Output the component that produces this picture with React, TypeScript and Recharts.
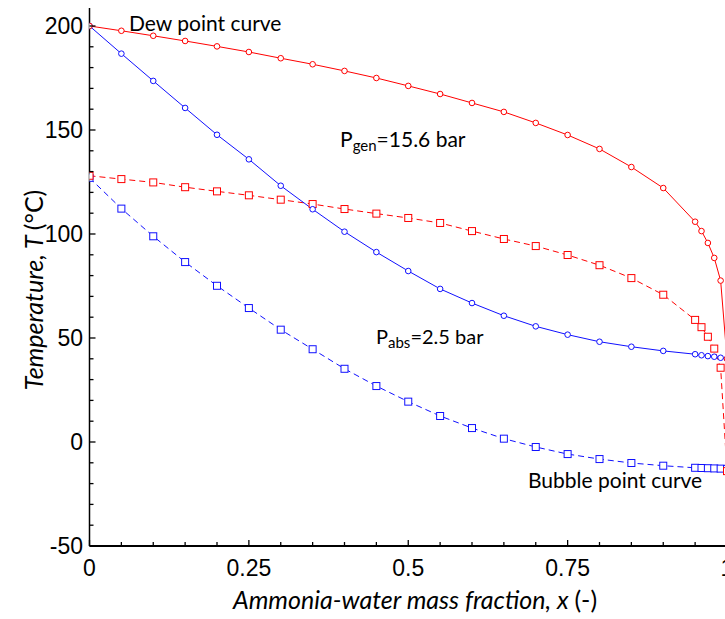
import React from 'react';
import { LineChart, Line, XAxis, YAxis } from 'recharts';

const xValues = [0, 0.05, 0.1, 0.15, 0.2, 0.25, 0.3, 0.35, 0.4, 0.45, 0.5, 0.55, 0.6, 0.65, 0.7, 0.75, 0.8, 0.85, 0.9, 0.95, 0.96, 0.97, 0.98, 0.99, 1.0];
const dewHigh = [200, 197.7, 195.3, 192.8, 190.2, 187.5, 184.5, 181.6, 178.4, 175, 171.2, 167.3, 163, 158.7, 153.4, 147.6, 140.9, 132.2, 122.1, 105.9, 101.4, 95.7, 88.5, 77.6, 40];
const dewLow = [200, 186.7, 173.6, 160.6, 147.7, 135.9, 123.2, 111.9, 101.1, 91.3, 82.2, 73.6, 66.8, 60.7, 55.6, 51.6, 48.2, 45.8, 43.8, 42.2, 41.7, 41.3, 41, 40.5, 40];
const bubbleHigh = [128, 126.4, 124.8, 122.5, 120.5, 118.6, 116.5, 114.4, 112, 109.8, 107.7, 105.3, 101.4, 97.6, 94.2, 89.9, 85, 78.8, 70.8, 58.7, 55.2, 50.6, 44.9, 35.7, -14];
const bubbleLow = [127, 112.2, 98.9, 86.5, 75.1, 64.4, 54, 44.6, 35.2, 26.9, 19.4, 12.5, 6.7, 1.6, -2.4, -5.8, -8.2, -10.1, -11.4, -12.4, -12.5, -12.6, -12.7, -12.8, -13];

const xTicks = [0, 0.05, 0.1, 0.15, 0.2, 0.25, 0.3, 0.35, 0.4, 0.45, 0.5, 0.55, 0.6, 0.65, 0.7, 0.75, 0.8, 0.85, 0.9, 0.95, 1];
const xMajor = [0, 0.25, 0.5, 0.75, 1];
const yTicks = [-50, -40, -30, -20, -10, 0, 10, 20, 30, 40, 50, 60, 70, 80, 90, 100, 110, 120, 130, 140, 150, 160, 170, 180, 190, 200];
const yMajor = [-50, 0, 50, 100, 150, 200];

const data = xValues.map((x, i) => ({
  x,
  dewHigh: dewHigh[i],
  dewLow: dewLow[i],
  bubbleHigh: bubbleHigh[i],
  bubbleLow: bubbleLow[i],
}));

const RED = '#ff0000';
const BLUE = '#1010ff';
const TICK_FONT = '"Liberation Sans", Arial, sans-serif';
const TEXT_FONT = 'Lato, "Open Sans", sans-serif';

const isMajorX = (v: number) => xMajor.some((m) => Math.abs(m - v) < 1e-9);
const isMajorY = (v: number) => yMajor.some((m) => Math.abs(m - v) < 1e-9);

const BottomTick = (props: any) => {
  const { x, y, payload } = props;
  const major = isMajorX(payload.value);
  return (
    <g>
      <line x1={x} x2={x} y1={y} y2={y - (major ? 6 : 4)} stroke="#000" strokeWidth={1.3} />
      {major && (
        <text x={x} y={y + 30} textAnchor="middle" fontSize={23} fontFamily={TICK_FONT} fill="#000">
          {String(payload.value)}
        </text>
      )}
    </g>
  );
};

const TopTick = (props: any) => {
  const { x, y, payload } = props;
  const major = isMajorX(payload.value);
  return <line x1={x} x2={x} y1={y} y2={y + (major ? 6 : 4)} stroke="#000" strokeWidth={1.3} />;
};

const LeftTick = (props: any) => {
  const { x, y, payload } = props;
  const major = isMajorY(payload.value);
  return (
    <g>
      <line x1={x} x2={x + (major ? 6 : 4)} y1={y} y2={y} stroke="#000" strokeWidth={1.3} />
      {major && (
        <text x={x - 6.5} y={y + 8} textAnchor="end" fontSize={23} fontFamily={TICK_FONT} fill="#000">
          {String(payload.value)}
        </text>
      )}
    </g>
  );
};

const RightTick = (props: any) => {
  const { x, y, payload } = props;
  const major = isMajorY(payload.value);
  return <line x1={x} x2={x - (major ? 6 : 4)} y1={y} y2={y} stroke="#000" strokeWidth={1.3} />;
};

const circleDot = (color: string) => (props: any) => {
  const { cx, cy, index } = props;
  if (cx == null || cy == null) return <g key={`c${index}`} />;
  return <circle key={`c${index}`} cx={cx} cy={cy} r={2.8} fill="#fff" stroke={color} strokeWidth={1} />;
};

const squareDot = (color: string) => (props: any) => {
  const { cx, cy, index } = props;
  if (cx == null || cy == null) return <g key={`s${index}`} />;
  return <rect key={`s${index}`} x={cx - 3.5} y={cy - 3.5} width={7} height={7} fill="#fff" stroke={color} strokeWidth={1} />;
};

const Y_DOMAIN: [number, number] = [-50, 208.65];

export default function App() {
  return (
    <div style={{ position: 'fixed', left: 0, top: 0, width: 725, height: 619, overflow: 'hidden', background: '#fff' }}>
      <LineChart width={730} height={619} data={data} margin={{ top: 8, right: 3, bottom: 0, left: 0 }}>
        <XAxis
          dataKey="x"
          type="number"
          domain={[0, 1]}
          ticks={xTicks}
          allowDataOverflow
          height={73}
          tickSize={0}
          tickMargin={0}
          tickLine={false}
          tick={<BottomTick />}
          axisLine={{ stroke: '#000', strokeWidth: 2 }}
          interval={0}
        />
        <XAxis
          xAxisId="top"
          orientation="top"
          dataKey="x"
          type="number"
          domain={[0, 1]}
          ticks={xTicks}
          allowDataOverflow
          height={0}
          tickSize={0}
          tickMargin={0}
          tickLine={false}
          tick={<TopTick />}
          axisLine={{ stroke: '#000', strokeWidth: 1.5 }}
          interval={0}
        />
        <YAxis
          type="number"
          domain={Y_DOMAIN}
          ticks={yTicks}
          allowDataOverflow
          width={89.5}
          tickSize={0}
          tickMargin={0}
          tickLine={false}
          tick={<LeftTick />}
          axisLine={{ stroke: '#000', strokeWidth: 1.5 }}
          interval={0}
        />
        <YAxis
          yAxisId="right"
          orientation="right"
          type="number"
          domain={Y_DOMAIN}
          ticks={yTicks}
          allowDataOverflow
          width={0}
          tickSize={0}
          tickMargin={0}
          tickLine={false}
          tick={<RightTick />}
          axisLine={{ stroke: '#000', strokeWidth: 1.5 }}
          interval={0}
        />
        <Line dataKey="bubbleLow" stroke={BLUE} strokeWidth={1} strokeDasharray="6 4" dot={squareDot(BLUE)} isAnimationActive={false} />
        <Line dataKey="bubbleHigh" stroke={RED} strokeWidth={1} strokeDasharray="6 4" dot={squareDot(RED)} isAnimationActive={false} />
        <Line dataKey="dewLow" stroke={BLUE} strokeWidth={1} dot={circleDot(BLUE)} isAnimationActive={false} />
        <Line dataKey="dewHigh" stroke={RED} strokeWidth={1} dot={circleDot(RED)} isAnimationActive={false} />
      </LineChart>
      <svg width={725} height={619} style={{ position: 'absolute', left: 0, top: 0, pointerEvents: 'none' }}>
        <text x={129} y={31} fontSize={21} fontFamily={TEXT_FONT} fill="#000">Dew point curve</text>
        <text x={340} y={147} fontSize={21} fontFamily={TEXT_FONT} fill="#000">
          P<tspan fontSize={15} dy={4}>gen</tspan><tspan dy={-4}>=15.6 bar</tspan>
        </text>
        <text x={376} y={344} fontSize={20} fontFamily={TEXT_FONT} fill="#000">
          P<tspan fontSize={15} dy={4}>abs</tspan><tspan dy={-4}>=2.5 bar</tspan>
        </text>
        <text x={528} y={488} fontSize={21} fontFamily={TEXT_FONT} fill="#000">Bubble point curve</text>
        <text x={415} y={609} textAnchor="middle" fontSize={25} fontFamily={TEXT_FONT} fill="#000">
          <tspan fontStyle="italic">Ammonia-water mass fraction, x </tspan>(-)
        </text>
        <text transform="translate(43, 290) rotate(-90)" textAnchor="middle" fontSize={25} fontFamily={TEXT_FONT} fill="#000">
          <tspan fontStyle="italic">Temperature, T </tspan>(°C)
        </text>
      </svg>
    </div>
  );
}
